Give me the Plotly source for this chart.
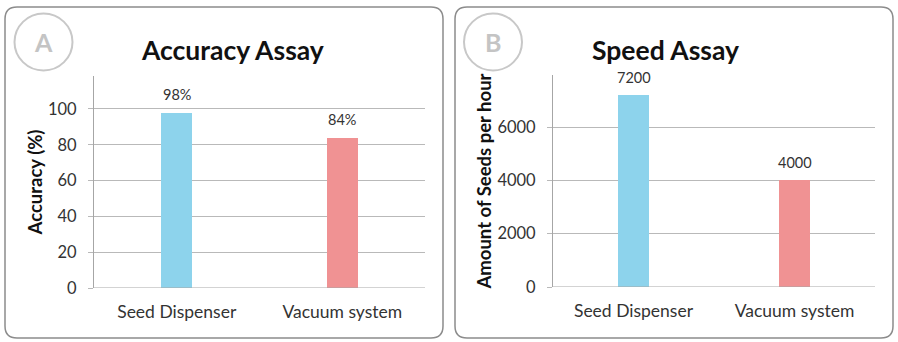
import plotly.graph_objects as go

W, H = 898, 342

categories = ["Seed Dispenser", "Vacuum system"]
accuracy = [98, 84]
accuracy_labels = ["98%", "84%"]
speed = [7200, 4000]
speed_labels = ["7200", "4000"]
accuracy_ticks = [0, 20, 40, 60, 80, 100]
speed_ticks = [0, 2000, 4000, 6000]

bar_colors = ["#8dd3ec", "#f09293"]
grid_color = "#b9b9b9"
axis_color = "#a6a6a6"
text_color = "#333333"
FONT = "Lato"


def px(x):
    return x / W


def py(y):
    return 1 - y / H


fig = go.Figure()

fig.add_trace(go.Bar(
    x=categories, y=accuracy, marker=dict(color=bar_colors, line=dict(width=0)),
    width=0.19, xaxis="x", yaxis="y", showlegend=False, hoverinfo="skip",
))
fig.add_trace(go.Bar(
    x=categories, y=speed, marker=dict(color=bar_colors, line=dict(width=0)),
    width=0.19, xaxis="x2", yaxis="y2", showlegend=False, hoverinfo="skip",
))

axis_common = dict(
    showgrid=True, gridcolor=grid_color, gridwidth=1,
    zeroline=False, showline=True, linecolor=axis_color, linewidth=1,
    ticks="outside", ticklen=5, tickcolor=grid_color,
    tickfont=dict(family=FONT, size=16.5, color=text_color),
    fixedrange=True, automargin=False,
)
xaxis_common = dict(
    showgrid=False, zeroline=False, showline=False, ticks="",
    tickfont=dict(family=FONT, size=17.5, color=text_color),
    fixedrange=True, automargin=False,
)
title_font = dict(family=FONT, size=18.5, color="#111111")

fig.update_layout(
    width=W, height=H,
    margin=dict(l=0, r=0, t=0, b=0, autoexpand=False),
    paper_bgcolor="white", plot_bgcolor="white",
    bargap=0,
    xaxis=dict(domain=[px(94), px(425)], anchor="y", ticklabelstandoff=11, **xaxis_common),
    yaxis=dict(domain=[py(288), py(76)], anchor="x", range=[0, 118.4],
               tickvals=accuracy_ticks, ticklabelstandoff=8,
               title=dict(text="<b>Accuracy (%)</b>", standoff=0, font=title_font),
               **axis_common),
    xaxis2=dict(domain=[px(553), px(875)], anchor="y2", ticklabelstandoff=11, **xaxis_common),
    yaxis2=dict(domain=[py(287), py(75)], anchor="x2", range=[0, 7950],
                tickvals=speed_ticks, ticklabelstandoff=8,
                title=dict(text="<b>Amount of Seeds per hour</b>", standoff=0, font=title_font),
                **axis_common),
)

# horizontal baseline along zero of each value axis
for xr, yr in (("x", "y"), ("x2", "y2")):
    fig.add_shape(type="line", xref=f"{xr} domain", yref=yr, x0=0, x1=1, y0=0, y1=0,
                  line=dict(color=axis_color, width=1), layer="above")

annotations = []
# value labels above each bar
for cat, val, lab in zip(categories, accuracy, accuracy_labels):
    annotations.append(dict(x=cat, y=val, xref="x", yref="y", text=lab, showarrow=False,
                            xanchor="center", yanchor="bottom", yshift=8,
                            font=dict(family=FONT, size=14.5, color=text_color)))
for cat, val, lab in zip(categories, speed, speed_labels):
    annotations.append(dict(x=cat, y=val, xref="x2", yref="y2", text=lab, showarrow=False,
                            xanchor="center", yanchor="bottom", yshift=7,
                            font=dict(family=FONT, size=14.5, color=text_color)))

# panel titles
annotations.append(dict(x=px(232), y=py(50), xref="paper", yref="paper",
                        xanchor="center", yanchor="middle",
                        text="<b>Accuracy Assay</b>", showarrow=False,
                        font=dict(family=FONT, size=26.5, color="#111111")))
annotations.append(dict(x=px(665), y=py(50), xref="paper", yref="paper",
                        xanchor="center", yanchor="middle",
                        text="<b>Speed Assay</b>", showarrow=False,
                        font=dict(family=FONT, size=26.5, color="#111111")))

# panel letters inside circles
for cx, letter in ((43.5, "A"), (493, "B")):
    annotations.append(dict(x=px(cx), y=py(42), xref="paper", yref="paper",
                            xanchor="center", yanchor="middle",
                            text=f"<b>{letter}</b>", showarrow=False,
                            font=dict(family=FONT, size=25, color="#c4c4c4")))
    fig.add_shape(type="circle", xref="paper", yref="paper",
                  x0=px(cx - 29), x1=px(cx + 29), y0=py(42 + 28.5), y1=py(42 - 28.5),
                  line=dict(color="#c8c8c8", width=2))

fig.update_layout(annotations=annotations)


def rounded_rect(x0, y0, x1, y1, r):
    X0, X1 = px(x0), px(x1)
    Y0, Y1 = py(y0), py(y1)
    rx, ry = r / W, r / H
    return (f"M {X0 + rx},{Y0} L {X1 - rx},{Y0} Q {X1},{Y0} {X1},{Y0 - ry} "
            f"L {X1},{Y1 + ry} Q {X1},{Y1} {X1 - rx},{Y1} "
            f"L {X0 + rx},{Y1} Q {X0},{Y1} {X0},{Y1 + ry} "
            f"L {X0},{Y0 - ry} Q {X0},{Y0} {X0 + rx},{Y0} Z")


for x0, x1 in ((5, 443), (455, 893)):
    fig.add_shape(type="path", xref="paper", yref="paper",
                  path=rounded_rect(x0, 7, x1, 338, 12),
                  line=dict(color="#8c8c8c", width=1.5), layer="below")

fig.write_html("out.html")
